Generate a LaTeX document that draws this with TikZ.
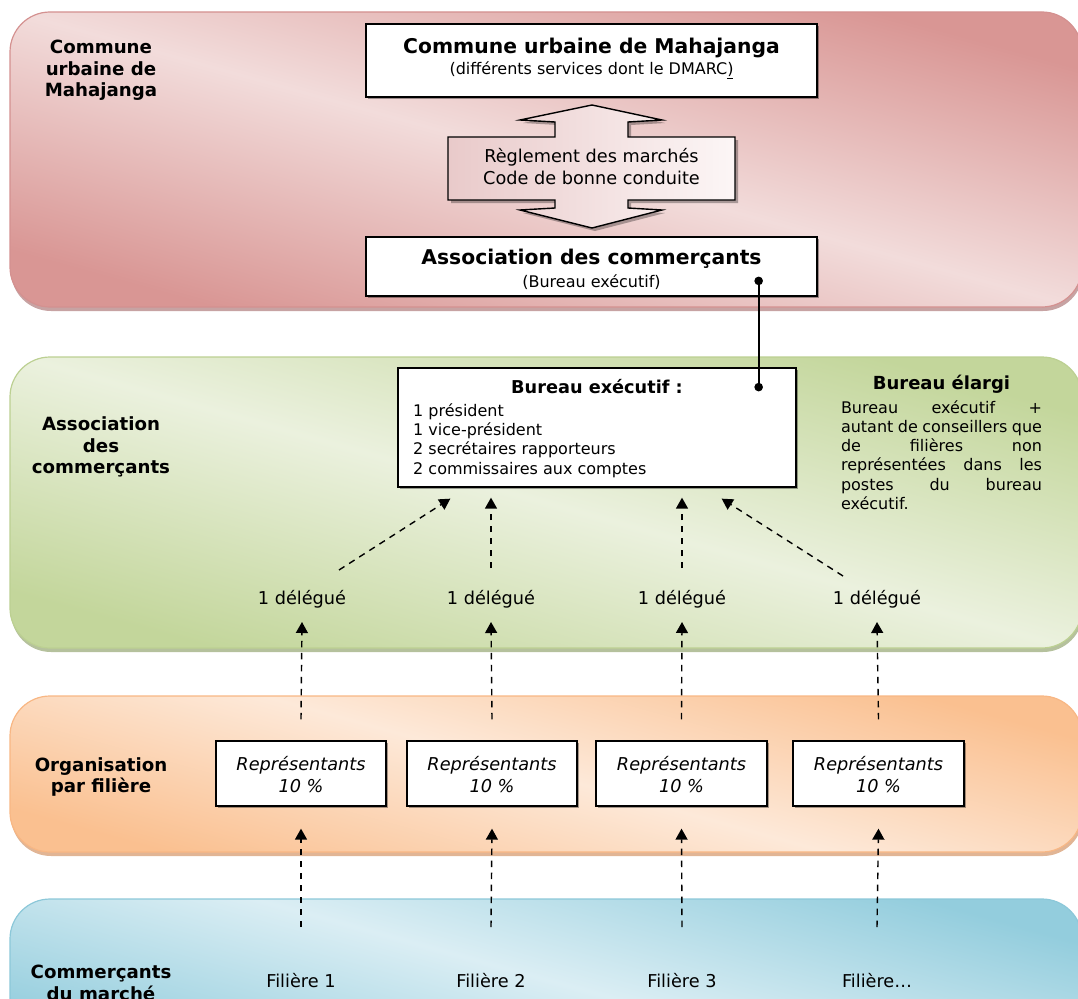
\documentclass[tikz,border=0pt]{standalone}
\usepackage{fontspec}
\setmainfont{DejaVu Sans}
\usetikzlibrary{arrows.meta,calc,shadows}
\definecolor{pinklight}{HTML}{F2DCDB}
\definecolor{pinkdark}{HTML}{D99694}
\definecolor{pinkline}{HTML}{D49190}
\definecolor{pinkshadow}{HTML}{B98C8C}
\definecolor{greenlight}{HTML}{EBF1DE}
\definecolor{greendark}{HTML}{C3D69B}
\definecolor{greenline}{HTML}{BCD092}
\definecolor{greenshadow}{HTML}{A3B284}
\definecolor{orangelight}{HTML}{FDE9D9}
\definecolor{orangedark}{HTML}{FAC090}
\definecolor{orangeline}{HTML}{F8B784}
\definecolor{orangeshadow}{HTML}{D9A27A}
\definecolor{bluelight}{HTML}{DBEEF4}
\definecolor{bluedark}{HTML}{93CDDD}
\definecolor{blueline}{HTML}{8CC8D9}
\definecolor{calloutpink}{HTML}{E9CACA}
\definecolor{calloutwhite}{HTML}{FCF6F6}
\begin{document}
\begin{tikzpicture}[x=1pt,y=-1pt,
  band/.style={rounded corners=40pt, line width=1.2pt},
  bandshadow/.style={rounded corners=40pt, opacity=0.8},
  pinkband/.style={band, draw=pinkline, top color=pinkdark, bottom color=pinkdark, middle color=pinklight, shading angle=-15.5},
  greenband/.style={band, draw=greenline, top color=greendark, bottom color=greendark, middle color=greenlight, shading angle=-15.5},
  orangeband/.style={band, draw=orangeline, top color=orangedark, bottom color=orangedark, middle color=orangelight, shading angle=-15.5},
  blueband/.style={band, draw=blueline, top color=bluedark, bottom color=bluedark, middle color=bluelight, shading angle=-15.5},
  whitebox/.style={draw=black, line width=1.3pt, fill=white, inner sep=0pt,
    drop shadow={shadow xshift=1.6pt, shadow yshift=-1.6pt, fill=black, opacity=0.35}},
  callout/.style={draw=black, line width=1.4pt, left color=calloutpink, right color=calloutwhite},
  calloutshadow/.style={fill=black, opacity=0.3},
  tS/.style={inner sep=0pt, text height=0.75em, text depth=0.25em, font=\fontsize{16}{19.3}\selectfont},
  tM/.style={inner sep=0pt, text height=0.75em, text depth=0.25em, font=\fontsize{17.7}{22}\selectfont},
  tMi/.style={inner sep=0pt, align=center, font=\itshape\fontsize{17.7}{22}\selectfont},
  tT/.style={inner sep=0pt, text height=0.75em, text depth=0.25em, font=\bfseries\fontsize{20.3}{24}\selectfont},
  tB/.style={inner sep=0pt, text height=0.75em, text depth=0.25em, font=\bfseries\fontsize{17.7}{22}\selectfont},
  lbl/.style={inner sep=0pt, align=center, font=\bfseries\fontsize{18.2}{21.5}\selectfont},
  dasharrow/.style={line width=1.4pt, dash pattern=on 6.5pt off 5.5pt, -{Triangle[width=12pt,length=11pt]}},
  dotline/.style={line width=1.7pt, {Circle[length=8.5pt]}-{Circle[length=8.5pt]}}
]
\useasboundingbox (0,0) rectangle (1078,998);

% ---------- bands ----------
\fill[bandshadow, pinkshadow] (11,16) rectangle (1083,311);
\path[pinkband] (10,12) rectangle (1082,307);
\fill[bandshadow, greenshadow] (11,361) rectangle (1083,652);
\path[greenband] (10,357) rectangle (1082,648);
\fill[bandshadow, orangeshadow] (11,700) rectangle (1083,856);
\path[orangeband] (10,696) rectangle (1082,852);
\path[blueband] (10,899) rectangle (1082,1060);

% ---------- band labels ----------
\node[lbl] (L1) at (101,70.5) {Commune\\urbaine de\\Mahajanga};
\node[lbl] (L2) at (101,447) {Association\\des\\commerçants};
\node[lbl] (L3) at (101,777) {Organisation\\par filière};
\node[lbl] (L4) at (101,983) {Commerçants\\du marché};

% ---------- callout (double arrow) ----------
\fill[calloutshadow] (595,108) -- (665,123) -- (631,125) -- (631,140) -- (738,140) -- (738,203) -- (631,203) -- (631,211) -- (665,213) -- (595,231) -- (523,213) -- (558,211) -- (558,203) -- (451,203) -- (451,140) -- (558,140) -- (558,125) -- (523,123) -- cycle;
\path[callout] (592,105) -- (662,120) -- (628,122) -- (628,137) -- (735,137) -- (735,200) -- (628,200) -- (628,208) -- (662,210) -- (592,228) -- (520,210) -- (555,208) -- (555,200) -- (448,200) -- (448,137) -- (555,137) -- (555,122) -- (520,120) -- cycle;
\node[inner sep=0pt, align=center, font=\fontsize{17.7}{22}\selectfont] (reg) at (591.5,167) {Règlement des marchés\\Code de bonne conduite};

% ---------- boxes ----------
\node[whitebox, minimum width=451pt, minimum height=73pt] (cu) at (591.5,60.5) {};
\node[tT] (cuT) at (591.5,51) {Commune urbaine de Mahajanga};
\node[tS] (cuS) at (591.5,72) {(différents services dont le DMARC\underline{)}};

\node[whitebox, minimum width=451pt, minimum height=59pt] (ac) at (591.5,266.5) {};
\node[tT] (acT) at (591.5,262) {Association des commerçants};
\node[tS] (acS) at (591.5,285) {(Bureau exécutif)};

\node[whitebox, minimum width=398pt, minimum height=119pt] (be) at (597,427.5) {};
\node[tB] (beT) at (597,391) {Bureau exécutif :};
\node[inner sep=0pt, align=left, anchor=west, font=\fontsize{16}{19.3}\selectfont] (beL) at (413,440.5)
  {1 président\\1 vice-président\\2 secrétaires rapporteurs\\2 commissaires aux comptes};

% ---------- bureau elargi ----------
\node[inner sep=0pt, text height=0.75em, text depth=0.25em, font=\bfseries\fontsize{18}{22}\selectfont] (beg) at (941.5,387) {Bureau élargi};
\node[inner sep=0pt, align=left, font=\fontsize{16}{19.2}\selectfont] (begP) at (941.5,455)
  {\makebox[201pt][s]{Bureau exécutif +}\\
   \makebox[201pt][s]{autant de conseillers que}\\
   \makebox[201pt][s]{de filières non}\\
   \makebox[201pt][s]{représentées dans les}\\
   \makebox[201pt][s]{postes du bureau}\\
   \makebox[201pt][l]{exécutif.}};

% ---------- delegues ----------
\node[tM] (d1) at (302,602) {1 délégué};
\node[tM] (d2) at (491,602) {1 délégué};
\node[tM] (d3) at (682,602) {1 délégué};
\node[tM] (d4) at (877,602) {1 délégué};

% ---------- representants ----------
\node[whitebox, minimum width=170pt, minimum height=65pt] (r1) at (301,773.5) {};
\node[whitebox, minimum width=170pt, minimum height=65pt] (r2) at (492,773.5) {};
\node[whitebox, minimum width=171pt, minimum height=65pt] (r3) at (681.5,773.5) {};
\node[whitebox, minimum width=171pt, minimum height=65pt] (r4) at (878.5,773.5) {};
\node[tMi] (r1t) at ($(r1)+(0,1)$) {Représentants\\10 \%};
\node[tMi] (r2t) at ($(r2)+(0,1)$) {Représentants\\10 \%};
\node[tMi] (r3t) at ($(r3)+(0,1)$) {Représentants\\10 \%};
\node[tMi] (r4t) at ($(r4)+(0,1)$) {Représentants\\10 \%};

% ---------- filieres ----------
\node[tM] (f1) at (301,985) {Filière 1};
\node[tM] (f2) at (491,985) {Filière 2};
\node[tM] (f3) at (682,985) {Filière 3};
\node[tM] (f4) at (877,985) {Filière…};

% ---------- connectors ----------
\draw[dotline] ($(ac.south east)+(-59,-20)$) -- ($(be.north east)+(-38,24)$);

\draw[dasharrow] ($(d1)+(37,-32)$) -- ($(be.south west)+(53,11)$);
\draw[dasharrow] ($(d2)+(0,-34)$) -- ($(be.south -| d2)+(0,10)$);
\draw[dasharrow] ($(d3)+(0,-34)$) -- ($(be.south -| d3)+(0,10)$);
\draw[dasharrow] ($(d4)+(-34,-26)$) -- ($(be.south east)+(-75,11)$);

\draw[dasharrow] ($(r1.north)+(0,-21)$) -- ($(d1)+(0,20)$);
\draw[dasharrow] ($(r2.north)+(0,-21)$) -- ($(d2)+(0,20)$);
\draw[dasharrow] ($(r3.north)+(0,-21)$) -- ($(d3)+(0,20)$);
\draw[dasharrow] ($(r4.north)+(0,-21)$) -- ($(d4)+(0,20)$);

\draw[dasharrow] ($(f1)+(0,-58)$) -- ($(r1.south)+(0,22)$);
\draw[dasharrow] ($(f2)+(0,-58)$) -- ($(r2.south)+(0,22)$);
\draw[dasharrow] ($(f3)+(0,-58)$) -- ($(r3.south)+(0,22)$);
\draw[dasharrow] ($(f4)+(0,-58)$) -- ($(r4.south)+(0,22)$);
\end{tikzpicture}
\end{document}
